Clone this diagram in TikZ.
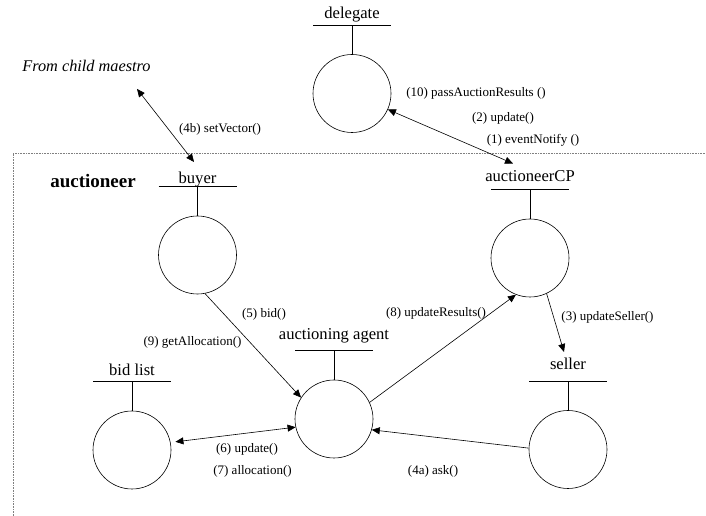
\documentclass[tikz,border=0pt]{standalone}
\usepackage{fontspec}
\setmainfont{Liberation Serif}
\usetikzlibrary{arrows.meta,positioning,calc}
\tikzset{obj/.style={draw,circle,minimum size=78pt,inner sep=0pt,line width=.6pt},
 nm/.style={font=\fontsize{16.6}{18}\selectfont,anchor=base,inner sep=0pt},
 msg/.style={font=\fontsize{13}{15}\selectfont,inner sep=0pt},
 wire/.style={line width=.6pt},
 arr/.style={-{Triangle[length=8pt,width=7pt]},line width=.6pt},
 barr/.style={{Triangle[length=8pt,width=7pt]}-{Triangle[length=8pt,width=7pt]},line width=.6pt},
 frame/.style={densely dotted,gray,line width=.6pt}}
\begin{document}
\begin{tikzpicture}[x=1pt,y=1pt]
\useasboundingbox (0,0) rectangle (706,516);
\draw[frame] (13,0) -- (13,363) -- (706,363);
% objects: circle, stem, bar and name
\foreach \n/\px/\py/\t/\g in {dl/352/422.5/delegate/7,by/197.5/261/buyer/3,cp/530/258/auctioneerCP/8,
 ag/334/97/auctioning agent/11,bl/132/66/bid list/6,sl/568/66.5/seller/12}{
 \node[obj] (\n) at (\px,\py) {};
 \coordinate (\n h) at ($(\n.north)+(0,29)$);
 \draw[wire] (\n.north) -- (\n h) ([xshift=-39pt]\n h) -- ([xshift=39pt]\n h);
 \node[nm] (\n t) at ($(\n h)+(0,\g)$) {\t};
}
\node[font=\fontsize{19}{21}\selectfont\bfseries,inner sep=0pt] (acn) at (93,335) {auctioneer};
\node[font=\fontsize{16.3}{18}\selectfont\itshape,inner sep=0pt] (fm) at (86.5,450) {From child maestro};
% messages
\draw[barr] ([shift={(50.5,-17)}]fm.south) -- ([shift={(-3.5,10)}]byt.north);
\draw[barr] (dl.-24) -- ([shift={(-17,7)}]cpt.north);
\draw[arr] (cp.-65) -- ([shift={(-4,5.5)}]slt.north);
\draw[arr] (by.-79) -- (ag.147);
\draw[arr] (ag.25) -- (cp.-111);
\draw[barr] ([xshift=5pt]bl.12) -- (ag.192);
\draw[arr] (sl.178) -- (ag.-16);
\node[msg] (m4b) at (220,387) {(4b) setVector()};
\node[msg] (m10) at (476,423) {(10) passAuctionResults ()};
\node[msg] (m2) at (503,398) {(2) update()};
\node[msg] (m1) at (533,376) {(1) eventNotify ()};
\node[msg] (m5) at (264,202) {(5) bid()};
\node[msg] (m9) at (192.5,174) {(9) getAllocation()};
\node[msg] (m8) at (436,203) {(8) updateResults()};
\node[msg] (m3) at (607.5,199) {(3) updateSeller()};
\node[msg] (m6) at (247,67) {(6) update()};
\node[msg] (m7) at (252.5,45) {(7) allocation()};
\node[msg] (m4a) at (433,45) {(4a) ask()};
\end{tikzpicture}
\end{document}
